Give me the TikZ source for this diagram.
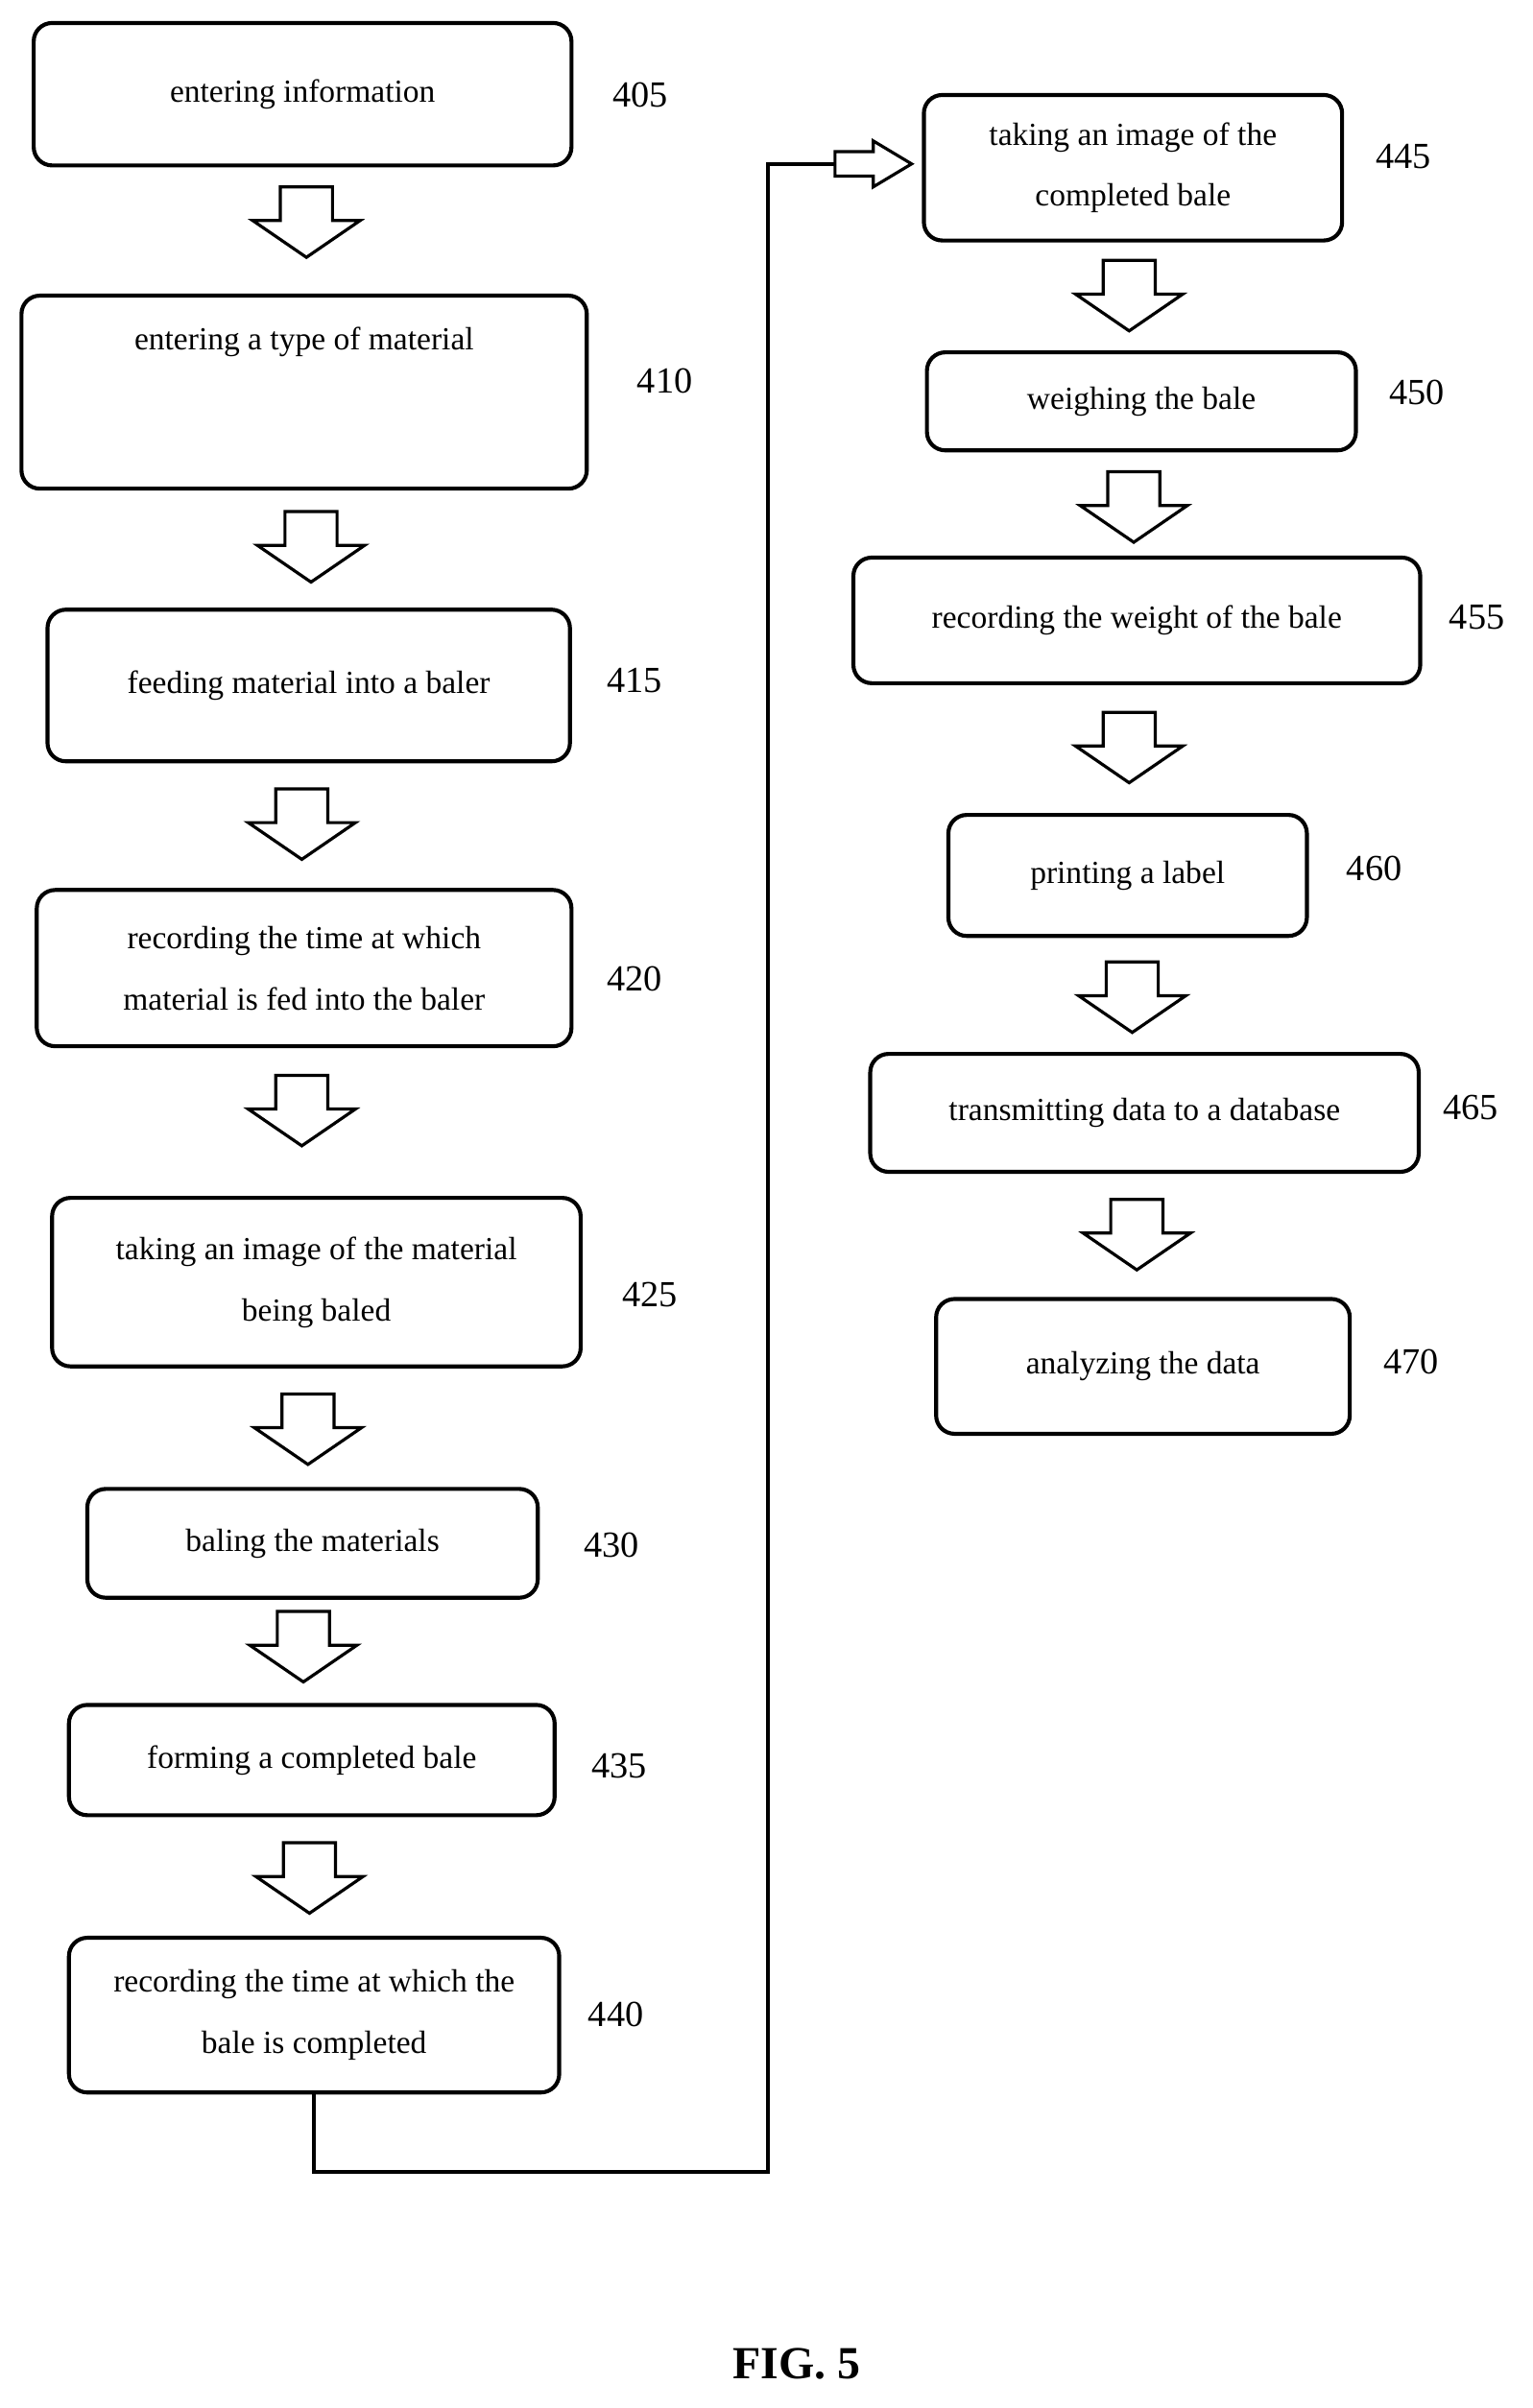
\documentclass[tikz,border=0pt]{standalone}
\usepackage{fontspec}
\setmainfont{Liberation Serif}
\begin{document}
\begin{tikzpicture}[x=1pt,y=1pt,
  box/.style={draw,line width=2.6pt,rounded corners=12pt,align=center,font=\fontsize{21}{40}\selectfont,inner sep=0pt},
  num/.style={font=\fontsize{24}{28}\selectfont},
  harr/.style={draw,line width=2pt,fill=white}]
\useasboundingbox (0,0) rectangle (1000,-1572);
\newcommand{\bx}[7]{\node[box,minimum width={#3-#2},minimum height={#5-#4}] (#1) at ({(#2+#3)/2},{-(#4+#5)/2}) {#6};
  \node[num] (n#1) at #7 {#1};}
\bx{405}{22}{373}{15}{108}{entering information}{(418,-62)}
\bx{410}{14}{383}{193}{319}{entering a type of material\\[30pt]}{(434,-249)}
\bx{415}{31}{372}{398}{497}{feeding material into a baler}{(414,-444)}
\bx{420}{24}{373}{581}{683}{recording the time at which\\material is fed into the baler}{(414,-639)}
\bx{425}{34}{379}{782}{892}{taking an image of the material\\being baled}{(424,-845)}
\bx{430}{57}{351}{972}{1043}{baling the materials}{(399,-1009)}
\bx{435}{45}{362}{1113}{1185}{forming a completed bale}{(404,-1153)}
\bx{440}{45}{365}{1265}{1366}{recording the time at which the\\bale is completed}{(402,-1315)}
\bx{445}{603}{876}{62}{157}{taking an image of the\\completed bale}{(916,-102)}
\bx{450}{605}{885}{230}{294}{weighing the bale}{(925,-256)}
\bx{455}{557}{927}{364}{446}{recording the weight of the bale}{(964,-403)}
\bx{460}{619}{853}{532}{611}{printing a label}{(897,-567)}
\bx{465}{568}{926}{688}{765}{transmitting data to a database}{(960,-723)}
\bx{470}{611}{881}{848}{936}{analyzing the data}{(921,-889)}
\newcommand{\darr}[2]{\draw[harr] (#1-17,-#2) -- (#1+17,-#2) -- (#1+17,-#2-22) -- (#1+35,-#2-22) -- (#1,-#2-46) -- (#1-35,-#2-22) -- (#1-17,-#2-22) -- cycle;}
\darr{200}{122}\darr{203}{334}\darr{197}{515}\darr{197}{702}\darr{201}{910}\darr{198}{1052}\darr{202}{1203}
\darr{737}{170}\darr{740}{308}\darr{737}{465}\darr{739}{628}\darr{742}{783}
\coordinate (c1) at (205,-1418);
\coordinate (c2) at (501,-1418);
\coordinate (c3) at (501,-107);
\coordinate (c4) at (545,-107);
\draw[line width=2.6pt] (440.south -| c1) -- (c1) -- (c2) -- (c3) -- (c4);
\draw[harr] (545,-99) -- (570,-99) -- (570,-92) -- (595,-107) -- (570,-122) -- (570,-115) -- (545,-115) -- cycle;
\node[font=\bfseries\fontsize{30}{34}\selectfont] (fig) at (520,-1543) {FIG. 5};
\end{tikzpicture}
\end{document}
